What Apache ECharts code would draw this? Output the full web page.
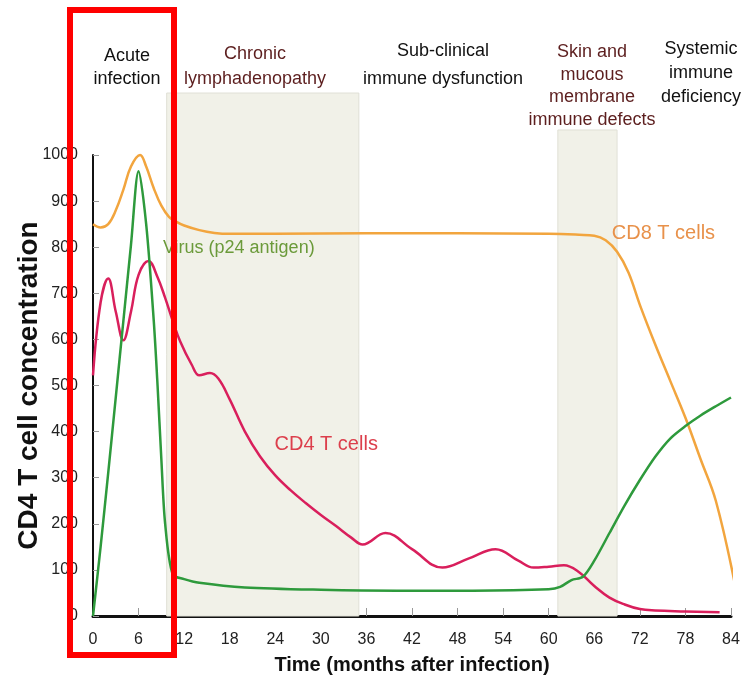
<!DOCTYPE html>
<html>
<head>
<meta charset="utf-8">
<script src="https://cdn.jsdelivr.net/npm/echarts@6/dist/echarts.min.js"></script>
<style>
  html, body { margin: 0; padding: 0; background: #fff; }
  #chart { width: 744px; height: 683px; }
</style>
</head>
<body>
<div id="chart"></div>
<script>
// months after infection (x) and level (y)
var cd8Months = [0, 1, 2, 3, 4, 5, 6.2, 7, 8, 9, 10, 11, 12, 14, 16, 18, 24, 36, 48, 60, 64, 66, 67.5, 69, 70.5, 72, 74, 76, 78, 80, 82, 84.5];
var cd8Values = [850, 843, 850, 880, 925, 975, 1000, 975, 928, 890, 866, 855, 847, 837, 831, 829, 829, 830, 830, 829, 827, 825, 815, 790, 745, 675, 590, 510, 430, 340, 250, 70];

var cd4Months = [0, 1, 2, 3, 4, 5, 6, 7.3, 8.5, 9.5, 10.5, 11.5, 13, 14, 15.4, 16.5, 18, 20, 22, 24, 26, 28, 30, 32, 34, 35.5, 38.5, 42, 46, 49.5, 53, 56, 58, 60, 62, 64, 66, 68, 70, 72, 74, 78, 82.5];
var cd4Values = [522, 680, 732, 660, 598, 660, 740, 770, 735, 690, 640, 595, 545, 522, 527, 515, 470, 400, 346, 305, 273, 245, 219, 195, 170, 155, 180, 145, 105, 125, 145, 120, 105, 107, 110, 95, 65, 40, 25, 15, 12, 10, 8];

var virusMonths = [0, 1, 2, 3, 4, 5, 6, 7, 8, 8.5, 9, 9.5, 10.5, 12, 14, 20, 30, 40, 50, 60, 61.5, 63, 64.5, 66, 68, 70, 72, 74, 76, 78, 80, 82, 84];
var virusValues = [0, 150, 310, 475, 640, 805, 965, 850, 640, 500, 340, 200, 90, 80, 72, 62, 57, 55, 55, 58, 63, 78, 85, 120, 180, 240, 295, 345, 385, 412, 435, 455, 474];

// shaded stage bands (months) and their top level
var bandStart = [9.7, 61.2];
var bandEnd = [35, 69];
var bandTop = [1132, 1052];

var xTicks = [0, 6, 12, 18, 24, 30, 36, 42, 48, 54, 60, 66, 72, 78, 84];
var yTicks = [0, 100, 200, 300, 400, 500, 600, 700, 800, 900, 1000];

var stageNames = [
    'Acute\ninfection',
    'Chronic\nlymphadenopathy',
    'Sub-clinical\nimmune dysfunction',
    'Skin and\nmucous\nmembrane\nimmune defects',
    'Systemic\nimmune\ndeficiency'
];

function pairs(xs, ys) {
    var out = [];
    for (var i = 0; i < xs.length; i++) {
        out.push([xs[i], ys[i]]);
    }
    return out;
}

var plain = '"Liberation Sans", Arial, sans-serif';

var stageLayout = [
    { x: 127, y: 45, lh: 23, color: '#111' },
    { x: 255, y: 42, lh: 25, color: '#5c1e1e' },
    { x: 443, y: 37, lh: 28, color: '#111' },
    { x: 592, y: 41, lh: 22.5, color: '#5c1e1e' },
    { x: 701, y: 37, lh: 24, color: '#111' }
];

var graphics = stageNames.map(function (t, i) {
    var l = stageLayout[i];
    return {
        type: 'text',
        x: l.x,
        y: l.y,
        z: 50,
        style: {
            text: t,
            fill: l.color,
            font: '18px ' + plain,
            align: 'center',
            verticalAlign: 'top',
            lineHeight: l.lh
        }
    };
});
// red box round the acute stage
graphics.push({
    type: 'rect',
    z: 100,
    shape: { x: 70, y: 10, width: 104, height: 645 },
    style: { fill: 'none', stroke: '#ff0000', lineWidth: 6 }
});

var bandAreas = bandStart.map(function (s, i) {
    return [{ coord: [s, 0] }, { coord: [bandEnd[i], bandTop[i]] }];
});

var chart = echarts.init(document.getElementById('chart'));
chart.setOption({
    backgroundColor: '#fff',
    animation: false,
    grid: [
        { left: 93, right: 13, top: 93, bottom: 67, outerBoundsMode: 'none', containLabel: false },
        { left: 93, right: 13, top: 155, bottom: 67, outerBoundsMode: 'none', containLabel: false }
    ],
    xAxis: [
        { gridIndex: 0, type: 'value', min: 0, max: 84, show: false },
        {
            gridIndex: 1,
            type: 'value',
            min: 0,
            max: 84,
            interval: 6,
            name: 'Time (months after infection)',
            nameLocation: 'middle',
            nameGap: 39,
            nameMoveOverlap: false,
            nameTextStyle: { fontSize: 20, fontWeight: 'bold', color: '#111', fontFamily: plain },
            axisLine: { lineStyle: { color: '#111', width: 3 } },
            axisTick: { inside: true, length: 8, lineStyle: { color: '#999' }, customValues: xTicks },
            axisLabel: { fontSize: 16, color: '#222', margin: 16, fontFamily: plain, customValues: xTicks },
            splitLine: { show: false }
        }
    ],
    yAxis: [
        { gridIndex: 0, type: 'value', min: 0, max: 1132, show: false },
        {
            gridIndex: 1,
            type: 'value',
            min: 0,
            max: 1000,
            interval: 100,
            name: 'CD4 T cell concentration',
            nameLocation: 'middle',
            nameRotate: 90,
            nameGap: 50,
            nameMoveOverlap: false,
            nameTextStyle: { fontSize: 28, fontWeight: 'bold', color: '#111', fontFamily: plain },
            axisLine: { show: true, lineStyle: { color: '#111', width: 2 } },
            axisTick: { show: true, inside: true, length: 6, lineStyle: { color: '#999' }, customValues: yTicks },
            axisLabel: {
                fontSize: 16, color: '#222', margin: 15, fontFamily: plain, customValues: yTicks,
                formatter: function (v) { return String(v); }
            },
            splitLine: { show: false }
        }
    ],
    graphic: graphics,
    series: [
        {
            type: 'scatter',
            xAxisIndex: 0,
            yAxisIndex: 0,
            data: [],
            silent: true,
            markArea: {
                silent: true,
                itemStyle: { color: '#f1f1e8', borderColor: '#e0e0d6', borderWidth: 1 },
                data: bandAreas
            }
        },
        {
            name: 'CD8 T cells',
            type: 'line',
            xAxisIndex: 1,
            yAxisIndex: 1,
            data: pairs(cd8Months, cd8Values),
            smooth: 0.4,
            clip: false,
            showSymbol: false,
            lineStyle: { color: '#f2a53e', width: 2.5 },
            markPoint: {
                symbolSize: 0,
                label: { show: true, position: 'right', distance: 0, color: '#e8914a', fontSize: 20, fontFamily: plain, formatter: '{b}' },
                data: [{ name: 'CD8 T cells', coord: [68.3, 829] }]
            }
        },
        {
            name: 'CD4 T cells',
            type: 'line',
            xAxisIndex: 1,
            yAxisIndex: 1,
            data: pairs(cd4Months, cd4Values),
            smooth: 0.4,
            showSymbol: false,
            lineStyle: { color: '#d91f5c', width: 2.5 },
            markPoint: {
                symbolSize: 0,
                label: { show: true, position: 'right', distance: 0, color: '#dc3f4c', fontSize: 20, fontFamily: plain, formatter: '{b}' },
                data: [{ name: 'CD4 T cells', coord: [23.9, 372] }]
            }
        },
        {
            name: 'Virus (p24 antigen)',
            type: 'line',
            xAxisIndex: 1,
            yAxisIndex: 1,
            data: pairs(virusMonths, virusValues),
            smooth: 0.3,
            showSymbol: false,
            lineStyle: { color: '#2e9a3c', width: 2.5 },
            markPoint: {
                symbolSize: 0,
                label: { show: true, position: 'right', distance: 0, color: '#6b9a3a', fontSize: 18, fontFamily: plain, formatter: '{b}' },
                data: [{ name: 'Virus (p24 antigen)', coord: [9.2, 799] }]
            }
        }
    ]
});
</script>
</body>
</html>
